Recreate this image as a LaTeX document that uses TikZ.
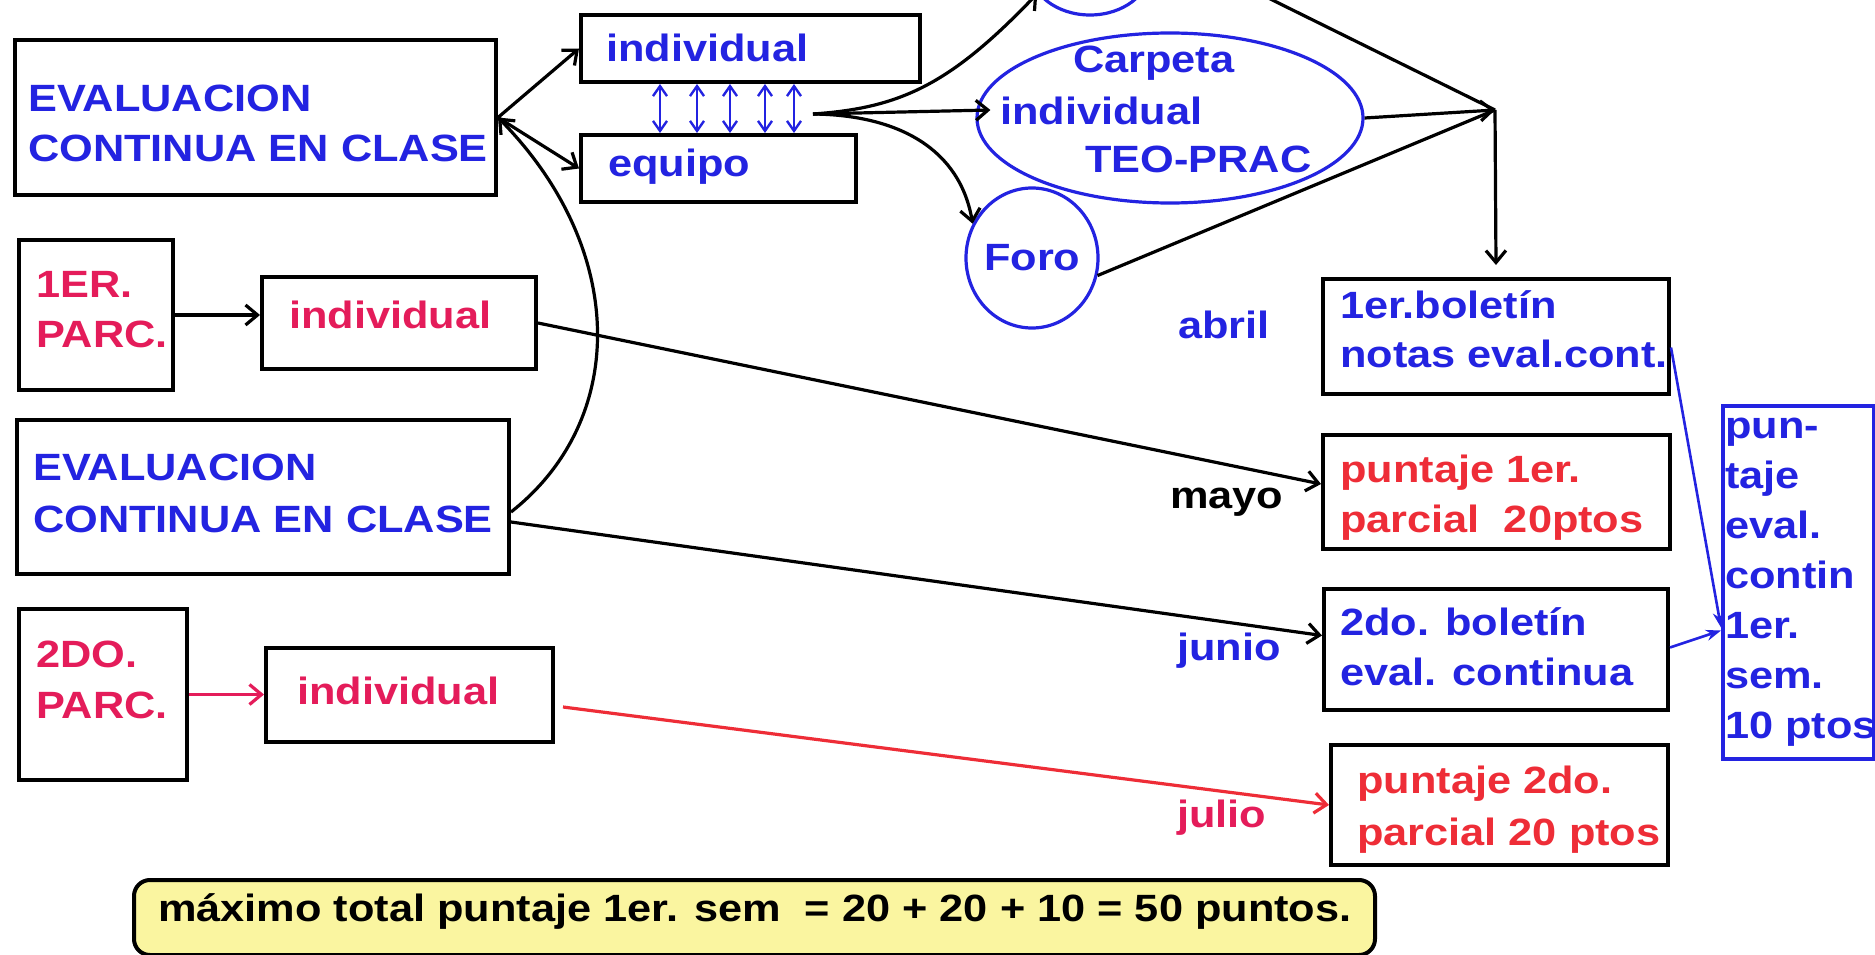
\documentclass[tikz,border=0pt]{standalone}
\usepackage{fontspec}
\newfontfamily\af{Liberation Sans}[FakeStretch=1.14]
\usetikzlibrary{shapes.geometric,arrows.meta,calc}
\definecolor{bl}{RGB}{35,35,225}
\definecolor{pk}{RGB}{228,28,90}
\definecolor{rd}{RGB}{238,45,55}
\definecolor{yl}{RGB}{250,245,160}
\begin{document}
\begin{tikzpicture}[x=1pt,y=-1pt,
  box/.style={draw=black,line width=4pt,inner sep=0pt,anchor=north west},
  lb/.style={font=\af\bfseries\fontsize{38}{50}\selectfont,anchor=base west,inner sep=0pt},
  el/.style={ellipse,draw=bl,line width=3.2pt,inner sep=0pt},
  arr/.style={line width=3.2pt,-{Straight Barb[length=12pt,width=20pt]}},
  dbl/.style={draw=bl,line width=2.4pt,{Straight Barb[length=10pt,width=14pt]}-{Straight Barb[length=10pt,width=14pt]}},
  barr/.style={draw=bl,line width=2.6pt,-{Stealth[length=15pt,width=11pt]}}]
\useasboundingbox (0,0) rectangle (1875,955);
\fill[white] (0,0) rectangle (1875,955);

% boxes
\node[box,minimum width=481pt,minimum height=155pt] (ev1) at (13,38) {};
\node[box,minimum width=339pt,minimum height=67pt] (ind1) at (579,13) {};
\node[box,minimum width=275pt,minimum height=67pt] (eq) at (579,133) {};
\node[box,minimum width=154pt,minimum height=150pt] (p1) at (17,238) {};
\node[box,minimum width=274pt,minimum height=92pt] (ind2) at (260,275) {};
\node[box,minimum width=492pt,minimum height=154pt] (ev2) at (15,418) {};
\node[box,minimum width=168pt,minimum height=171pt] (p2) at (17,607) {};
\node[box,minimum width=287pt,minimum height=94pt] (ind3) at (264,646) {};
\node[box,minimum width=346pt,minimum height=115pt] (b1) at (1321,277) {};
\node[box,minimum width=347pt,minimum height=114pt] (pt1) at (1321,433) {};
\node[box,minimum width=344pt,minimum height=121pt] (b2) at (1322,587) {};
\node[box,minimum width=337pt,minimum height=120pt] (pt2) at (1329,743) {};
\node[box,draw=bl,minimum width=151pt,minimum height=353pt] (tot) at (1721,404) {};
\node[box,fill=yl,rounded corners=16pt,minimum width=1241pt,minimum height=75pt] (sum) at (132,878) {};

% ellipses
\node[el,minimum width=120pt,minimum height=92pt] (topel) at (1090,-31) {};
\node[el,minimum width=386pt,minimum height=170pt] (carp) at (1170,118) {};
\node[el,minimum width=132pt,minimum height=140pt] (foro) at (1032,258) {};

% texts
\node[lb,text=bl] (ev1a) at (28,112) {EVALUACION};
\node[lb,text=bl] (ev1b) at (28,162) {CONTINUA EN CLASE};
\node[lb,text=bl] (ind1t) at (606,62) {individual};
\node[lb,text=bl] (eqt) at (608,177) {equipo};
\node[lb,text=bl] (carpa) at (1073,73) {Carpeta};
\node[lb,text=bl] (carpb) at (1000,125) {individual};
\node[lb,text=bl] (carpc) at (1085,173) {TEO-PRAC};
\node[lb,text=bl] (forot) at (984,270) {Foro};
\node[lb,text=pk] (p1a) at (36,297) {1ER.};
\node[lb,text=pk] (p1b) at (36,347) {PARC.};
\node[lb,text=pk] (ind2t) at (289,328) {individual};
\node[lb,text=bl] (ev2a) at (33,480) {EVALUACION};
\node[lb,text=bl] (ev2b) at (33,532) {CONTINUA EN CLASE};
\node[lb,text=pk] (p2a) at (36,667) {2DO.};
\node[lb,text=pk] (p2b) at (36,718) {PARC.};
\node[lb,text=pk] (ind3t) at (297,704) {individual};
\node[lb,text=bl] (abril) at (1178,338) {abril};
\node[lb,text=bl] (b1a) at (1340,318) {1er.boletín};
\node[lb,text=bl] (b1b) at (1340,367) {notas eval.cont.};
\node[lb,text=black] (mayo) at (1170,508) {mayo};
\node[lb,text=rd] (pt1a) at (1340,482) {puntaje 1er.};
\node[lb,text=rd] (pt1b) at (1340,532) {parcial~~20ptos};
\node[lb,text=bl] (junio) at (1177,660) {junio};
\node[lb,text=bl] (b2a) at (1340,635) {2do. boletín};
\node[lb,text=bl] (b2b) at (1340,685) {eval. continua};
\node[lb,text=pk] (julio) at (1177,827) {julio};
\node[lb,text=rd] (pt2a) at (1357,793) {puntaje 2do.};
\node[lb,text=rd] (pt2b) at (1357,845) {parcial 20 ptos};
\node[lb,text=bl] (t1) at (1725,438) {pun-};
\node[lb,text=bl] (t2) at (1725,488) {taje};
\node[lb,text=bl] (t3) at (1725,538) {eval.};
\node[lb,text=bl] (t4) at (1725,588) {contin};
\node[lb,text=bl] (t5) at (1725,638) {1er.};
\node[lb,text=bl] (t6) at (1725,688) {sem.};
\node[lb,text=bl] (t7) at (1725,738) {10 ptos};
\node[lb,text=black] (sumt) at (158,921) {máximo total puntaje 1er. sem~~= 20 + 20 + 10 = 50 puntos.};

% free points
\coordinate (fan) at (813,114);
\coordinate (conv) at (1495,110);
\coordinate (topsrc) at (1242,-15);

% connectors
\draw[arr] (ev1.east) -- (ind1.west);
\draw[arr] (ev1.east) -- (eq.west);
\draw[arr] ([yshift=-15pt]ev2.east) .. controls (628,420) and (628,250) .. (ev1.east);
\foreach \dx in {81,118,151,186,215}
  \draw[dbl] ($(ind1.south west)+(\dx,0)$) -- ($(ind1.south west |- eq.north)+(\dx,0)$);
\draw[arr] (fan) .. controls (900,108) and (950,85) .. (topel.205);
\draw[arr] (fan) -- ([xshift=15pt,yshift=8pt]carp.west);
\draw[arr] (fan) .. controls (900,115) and (960,150) .. (foro.150);
\draw[line width=3.2pt] (topsrc) -- (conv);
\draw[arr] (carp.east) -- (conv);
\draw[line width=3.2pt] (foro.345) -- (conv);
\draw[arr] (conv) -- ([yshift=12pt]b1.north);
\draw[arr] (p1.east) -- (p1.east -| ind2.west);
\draw[arr] (ind2.east) -- ([yshift=8pt]pt1.west);
\draw[arr] ([yshift=-25pt]ev2.east) -- ([yshift=14pt]b2.west);
\draw[arr,color=pk] (p2.east) -- (p2.east -| ind3.west);
\draw[arr,color=rd] ([xshift=8pt,yshift=-12pt]ind3.east) -- (pt2.west);
\draw[barr] ([yshift=-11pt]b1.east) -- ([yshift=-45pt]tot.west);
\draw[barr] ([yshift=2pt]b2.east) -- ([yshift=-48pt]tot.west);
\end{tikzpicture}
\end{document}
